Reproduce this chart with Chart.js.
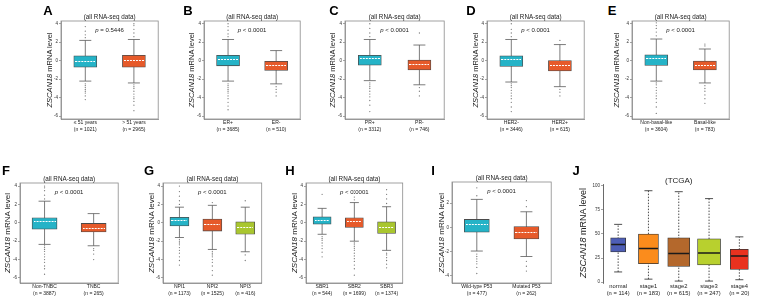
<!DOCTYPE html>
<html><head><meta charset="utf-8">
<script src="https://cdn.jsdelivr.net/npm/chart.js@4/dist/chart.umd.min.js"></script>
<style>
html,body{margin:0;padding:0;background:#fff;}
#root{position:relative;width:767px;height:297px;overflow:hidden;font-family:Arial,"Liberation Sans",sans-serif;background:#fff;}
.cv{position:absolute;}
.lt{position:absolute;font-weight:bold;font-size:13px;line-height:1;transform:translate(-50%,-50%);color:#000;}
.yl{position:absolute;white-space:nowrap;line-height:1;transform:translate(-50%,-50%) rotate(-90deg);color:#222;}
</style></head><body><div id="root"></div>
<script>
// ---------------- DATA ----------------
const ticksRNA = [-6,-4,-2,0,2,4];
const ticksI = [-4,-2,0,2];
const ticksJ = [0,25,50,75,100];

const catsA = ['≤ 51 years','> 51 years'], nA = ['(n = 1021)','(n = 2965)'];
const loA=[-2.2,-2.4], q1A=[-0.7,-0.7], medA=[-0.05,0.0], q3A=[0.54,0.6], hiA=[2.2,2.3];
const outA=[[2.5,2.8,3.2,3.7,-2.5,-2.7,-2.9,-3.1,-3.3,-3.5,-3.8,-4.2],[2.6,3.0,3.4,3.8,4.0,-2.6,-2.8,-3.0,-3.3,-3.6,-3.9,-4.1,-4.4,-4.8,-5.4]];

const catsB = ['ER+','ER-'], nB = ['(n = 3685)','(n = 510)'];
const loB=[-2.2,-2.5], q1B=[-0.55,-1.05], medB=[0.18,-0.55], q3B=[0.6,-0.07], hiB=[2.3,1.1];
const outB=[[2.6,2.9,3.3,3.7,4.0,-2.5,-2.7,-2.9,-3.1,-3.3,-3.5,-3.8,-4.1,-4.5,-4.9,-5.3],[-2.8,-3.1,-3.4,-3.8]];

const catsC = ['PR+','PR-'], nC = ['(n = 3312)','(n = 746)'];
const loC=[-2.15,-2.6], q1C=[-0.47,-1.0], medC=[0.2,-0.4], q3C=[0.58,0.07], hiC=[2.3,1.7];
const outC=[[2.6,3.0,3.5,4.0,-2.4,-2.6,-2.8,-3.0,-3.3,-3.6,-3.9,-4.3,-4.8,-5.5],[3.0,-2.9,-3.3,-3.8]];

const catsD = ['HER2-','HER2+'], nD = ['(n = 3446)','(n = 615)'];
const loD=[-2.3,-2.8], q1D=[-0.62,-1.1], medD=[0.1,-0.55], q3D=[0.54,0.03], hiD=[2.3,1.75];
const outD=[[2.6,3.0,3.4,4.0,-2.5,-2.7,-2.9,-3.2,-3.5,-3.8,-4.1,-4.5,-5.0,-5.5],[2.2,-3.1,-3.4,-3.8]];

const catsE = ['Non-basal-like','Basal-like'], nE = ['(n = 3604)','(n = 783)'];
const loE=[-2.2,-2.4], q1E=[-0.5,-1.0], medE=[0.22,-0.5], q3E=[0.65,0.0], hiE=[2.35,1.27];
const outE=[[2.7,3.1,3.5,3.8,4.1,-2.4,-2.6,-2.9,-3.2,-3.5,-3.8,-4.1,-4.5,-5.0,-5.7],[1.6,1.8,-2.7,-3.0,-3.3,-3.7,-4.1,-4.6]];

const catsF = ['Non-TNBC','TNBC'], nF = ['(n = 3887)','(n = 265)'];
const loF=[-2.35,-2.5], q1F=[-0.7,-1.0], medF=[0.1,-0.6], q3F=[0.55,-0.07], hiF=[2.35,1.0];
const outF=[[2.6,3.0,3.5,3.8,4.0,-2.5,-2.7,-2.9,-3.1,-3.4,-3.7,-4.0,-4.3,-4.7,-5.0,-5.6],[-2.8,-3.0,-3.4,-4.0]];

const catsG = ['NPI1','NPI2','NPI3'], nG = ['(n = 1173)','(n = 1525)','(n = 416)'];
const loG=[-1.6,-2.9,-3.15], q1G=[-0.35,-0.9,-1.25], medG=[0.2,-0.15,-0.5], q3G=[0.6,0.4,0.1], hiG=[1.7,1.9,1.7];
const outG=[[2.0,2.4,2.9,3.4,4.0,-1.8,-2.0,-2.2,-2.4,-2.7,-3.0,-3.3,-3.7,-4.1,-4.6],[2.2,-3.1,-3.3,-3.5,-3.7,-4.0,-4.3,-4.7,-5.2,-5.7],[2.4,-3.5,-4.1]];

const catsH = ['SBR1','SBR2','SBR3'], nH = ['(n = 544)','(n = 1699)','(n = 1374)'];
const loH=[-1.25,-2.0,-3.0], q1H=[-0.15,-0.5,-1.15], medH=[0.3,0.15,-0.5], q3H=[0.65,0.55,0.1], hiH=[1.57,2.2,1.75];
const outH=[[3.1,-1.5,-1.7,-1.9,-2.2,-2.5,-2.8,-3.2,-3.7],[2.5,2.8,3.2,3.5,-2.2,-2.4,-2.6,-2.8,-3.0,-3.3,-3.6,-3.9,-4.2,-4.6,-5.0,-5.7],[2.1,2.6,3.1,3.6,-3.3,-3.5,-3.8,-4.1,-4.5,-4.9]];

const catsI = ['Wild-type P53','Mutated P53'], nI = ['(n = 477)','(n = 262)'];
const loI=[-1.95,-2.4], q1I=[-0.4,-0.95], medI=[0.25,-0.43], q3I=[0.65,0.06], hiI=[2.3,1.28];
const outI=[[2.6,3.25,-2.2,-2.4,-2.6,-2.8,-3.0,-3.3,-3.8],[1.7,2.2,-2.8,-3.2,-3.6]];

const catsJ = ['normal','stage1','stage2','stage3','stage4'], nJ = ['(n = 114)','(n = 183)','(n = 615)','(n = 247)','(n = 20)'];
const loJ=[10.5,3,1,1,2.4], q1J=[31.4,19,16.3,17.8,13.2], medJ=[39,35,29.6,30.3,27.2], q3J=[46,50,46,45,34], hiJ=[60,95,94,86.8,47];
const outJ=[[],[],[],[],[]];

// ---------------- STYLE / LAYOUT ----------------
const FONT='Arial, "Liberation Sans", Helvetica, sans-serif';
Chart.defaults.font.family=FONT;
const CY='#25b3c7', OR='#e65a2a', GR='#a9c62f';
const JCOL=['#4e5eb6','#fb8c1c','#b4682c','#b8d02e','#e9321f'];
const RNA='(all RNA-seq data)';
const root=document.getElementById('root');

const rnaStyle={rna:true,wCol:'#5a5a5a',wW:0.8,cCol:'#5a5a5a',bCol:'#4a4a4a',bW:0.8,oCol:'#7a7a7a',frame:true,tSize:6.3,pSize:6,lSize:5,lLH:1.3,lPad:0.5};
const panels=[
 Object.assign({letter:'A',lpos:[48,10],ylab:[50,70,7.5],cats:catsA,n:nA,lo:loA,q1:q1A,med:medA,q3:q3A,hi:hiA,out:outA,colors:[CY,OR],p:'= 0.5446',title:RNA,plot:[61,21,163,119],yr:[-6.3,4.3],ticks:ticksRNA,boxW:[23,23],capW:12},rnaStyle),
 Object.assign({letter:'B',lpos:[188,10],ylab:[192,70,7.5],cats:catsB,n:nB,lo:loB,q1:q1B,med:medB,q3:q3B,hi:hiB,out:outB,colors:[CY,OR],p:'< 0.0001',title:RNA,plot:[204,21,305,119],yr:[-6.3,4.3],ticks:ticksRNA,boxW:[23,23],capW:12},rnaStyle),
 Object.assign({letter:'C',lpos:[334,10],ylab:[333,70,7.5],cats:catsC,n:nC,lo:loC,q1:q1C,med:medC,q3:q3C,hi:hiC,out:outC,colors:[CY,OR],p:'< 0.0001',title:RNA,plot:[345,21,449,119],yr:[-6.3,4.3],ticks:ticksRNA,boxW:[23,23],capW:12},rnaStyle),
 Object.assign({letter:'D',lpos:[471,10],ylab:[476,70,7.5],cats:catsD,n:nD,lo:loD,q1:q1D,med:medD,q3:q3D,hi:hiD,out:outD,colors:[CY,OR],p:'< 0.0001',title:RNA,plot:[487,21,589,119],yr:[-6.3,4.3],ticks:ticksRNA,boxW:[23,23],capW:12},rnaStyle),
 Object.assign({letter:'E',lpos:[612,10],ylab:[617,70,7.5],cats:catsE,n:nE,lo:loE,q1:q1E,med:medE,q3:q3E,hi:hiE,out:outE,colors:[CY,OR],p:'< 0.0001',title:RNA,plot:[632,21,734,119],yr:[-6.3,4.3],ticks:ticksRNA,boxW:[23,23],capW:12},rnaStyle),
 Object.assign({letter:'F',lpos:[6,170],ylab:[8,233,8],cats:catsF,n:nF,lo:loF,q1:q1F,med:medF,q3:q3F,hi:hiF,out:outF,colors:[CY,OR],p:'< 0.0001',title:RNA,plot:[20,183,123,283],yr:[-6.55,4.33],ticks:ticksRNA,boxW:[25,25],capW:12},rnaStyle),
 Object.assign({letter:'G',lpos:[149,170],ylab:[152,233,8],cats:catsG,n:nG,lo:loG,q1:q1G,med:medG,q3:q3G,hi:hiG,out:outG,colors:[CY,OR,GR],p:'< 0.0001',title:RNA,plot:[163,183,265,283],yr:[-6.55,4.33],ticks:ticksRNA,boxW:[19,19,19],capW:9},rnaStyle),
 Object.assign({letter:'H',lpos:[290,170],ylab:[295,233,8],cats:catsH,n:nH,lo:loH,q1:q1H,med:medH,q3:q3H,hi:hiH,out:outH,colors:[CY,OR,GR],p:'< 0.0001',title:RNA,plot:[306,183,406,283],yr:[-6.55,4.33],ticks:ticksRNA,boxW:[18,18,18],capW:9},rnaStyle),
 Object.assign({letter:'I',lpos:[433,170],ylab:[442,233,8],cats:catsI,n:nI,lo:loI,q1:q1I,med:medI,q3:q3I,hi:hiI,out:outI,colors:[CY,OR],p:'< 0.0001',title:RNA,plot:[452,182,556,283],yr:[-4.58,3.73],ticks:ticksI,boxW:[25,25],capW:12},rnaStyle),
 {letter:'J',lpos:[576,170],ylab:[583,233,9],cats:catsJ,n:nJ,lo:loJ,q1:q1J,med:medJ,q3:q3J,hi:hiJ,out:outJ,colors:JCOL,p:null,title:'(TCGA)',plot:[603,183.8,767,282.3],yr:[-1,102],ticks:ticksJ,boxW:[15,20,22,23,18],capW:8,
  rna:false,wCol:'#222',wW:0.8,wDash:[1.5,1.5],cCol:'#222',bCol:'#333',bW:0.8,oCol:'#555',frame:false,tSize:8,tOff:3,lSize:5.8,lLH:1.18,lPad:0,padR:0,xBorder:false}
];

function dashImg(w){
  const c=document.createElement('canvas'); c.width=w; c.height=1;
  const x=c.getContext('2d'); x.fillStyle='#ffffff';
  for(let i=0;i<w;i+=3){x.fillRect(i,0,2,1);}
  return c;
}

function build(P){
  const [L,T,R,B]=P.plot;
  const padL=14, padT=14, padR=(P.padR!==undefined?P.padR:2), padB=16;
  const W=Math.round((R-L)+padL+padR), H=Math.round((B-T)+padT+padB);
  const cv=document.createElement('canvas');
  cv.className='cv';
  cv.style.left=(L-padL)+'px'; cv.style.top=(T-padT)+'px';
  cv.style.width=W+'px'; cv.style.height=H+'px';
  cv.width=W; cv.height=H;
  root.appendChild(cv);

  const cats=P.cats, k=cats.length, ds=[];
  // whiskers
  const wd=[];
  for(let i=0;i<k;i++){wd.push({x:cats[i],y:P.lo[i]},{x:cats[i],y:P.hi[i]},{x:cats[i],y:null});}
  ds.push({type:'scatter',data:wd,showLine:true,spanGaps:false,borderColor:P.wCol,borderWidth:P.wW,borderDash:P.wDash||[],pointRadius:0,order:10});
  // boxes
  for(let i=0;i<k;i++){
    ds.push({type:'bar',data:cats.map((c,j)=>j===i?[P.q1[i],P.q3[i]]:null),backgroundColor:P.colors[i],borderColor:P.bCol,borderWidth:P.bW,borderSkipped:false,barThickness:P.boxW[i],grouped:false,order:8});
  }
  // caps
  const cd=[];
  for(let i=0;i<k;i++){cd.push({x:cats[i],y:P.lo[i]},{x:cats[i],y:P.hi[i]});}
  ds.push({type:'scatter',data:cd,pointStyle:'line',pointRadius:P.capW/2,pointBorderColor:P.cCol,pointBorderWidth:P.wW,order:6});
  // medians
  const md=cats.map((c,i)=>({x:c,y:P.med[i]}));
  if(P.rna){
    ds.push({type:'scatter',data:md,pointStyle:P.boxW.map(w=>dashImg(w-3)),pointRadius:1,order:4});
  } else {
    ds.push({type:'scatter',data:md,pointStyle:'line',pointRadius:P.boxW.map(w=>w/2-0.5),pointBorderColor:'#1a1a1a',pointBorderWidth:1.5,order:4});
  }
  // outliers
  const od=[];
  for(let i=0;i<k;i++){P.out[i].forEach(v=>od.push({x:cats[i],y:v}));}
  ds.push({type:'scatter',data:od,pointStyle:'circle',pointRadius:0.65,pointBackgroundColor:P.oCol,pointBorderWidth:0,order:5});

  const deco={id:'deco',
    beforeDatasetsDraw(ch){
      if(!P.frame) return;
      const a=ch.chartArea, c=ch.ctx;
      c.save(); c.strokeStyle='#8a8a8a'; c.lineWidth=0.8;
      c.strokeRect(a.left,a.top,a.right-a.left,a.bottom-a.top); c.restore();
    },
    afterDraw(ch){
      const a=ch.chartArea, c=ch.ctx, cx=(a.left+a.right)/2;
      c.save(); c.fillStyle='#222'; c.textBaseline='middle'; c.textAlign='center';
      c.font=P.tSize+'px '+FONT;
      c.fillText(P.title,cx,a.top-(P.tOff||4));
      if(P.p){
        c.textAlign='left';
        c.font='italic '+P.pSize+'px '+FONT; const w1=c.measureText('p ').width;
        c.font=P.pSize+'px '+FONT; const w2=c.measureText(P.p).width;
        const x0=cx-(w1+w2)/2, y0=a.top+9.5;
        c.font='italic '+P.pSize+'px '+FONT; c.fillText('p ',x0,y0);
        c.font=P.pSize+'px '+FONT; c.fillText(P.p,x0+w1,y0);
      }
      c.restore();
    }};

  new Chart(cv,{
    type:'bar',
    data:{labels:cats,datasets:ds},
    plugins:[deco],
    options:{
      responsive:false,animation:false,devicePixelRatio:1,
      layout:{padding:{top:padT,right:padR,left:0,bottom:0}},
      plugins:{legend:{display:false},tooltip:{enabled:false},title:{display:false}},
      scales:{
        x:{type:'category',offset:true,
           grid:{display:false,drawTicks:false},
           border:{display:P.xBorder!==false,color:'#8a8a8a',width:0.8},
           ticks:{autoSkip:false,maxRotation:0,minRotation:0,padding:P.lPad,color:'#222',
                  font:{size:P.lSize,lineHeight:P.lLH},
                  callback:(v,i)=>[cats[i],P.n[i]]},
           afterFit:s=>{s.height=padB;}},
        y:{type:'linear',min:P.yr[0],max:P.yr[1],
           afterBuildTicks:s=>{s.ticks=P.ticks.map(v=>({value:v}));},
           grid:{display:true,drawOnChartArea:false,drawTicks:true,tickLength:2,color:'#666',lineWidth:0.6},
           border:{display:true,color:P.frame?'#8a8a8a':'#444',width:0.8},
           ticks:{padding:1,color:'#333',font:{size:4.5}},
           afterFit:s=>{s.width=padL;}}
      }
    }
  });

  const lt=document.createElement('div'); lt.className='lt';
  lt.style.left=P.lpos[0]+'px'; lt.style.top=P.lpos[1]+'px'; lt.textContent=P.letter;
  root.appendChild(lt);
  const yl=document.createElement('div'); yl.className='yl';
  yl.style.left=P.ylab[0]+'px'; yl.style.top=P.ylab[1]+'px'; yl.style.fontSize=P.ylab[2]+'px';
  yl.innerHTML='<i>ZSCAN18</i> mRNA level';
  root.appendChild(yl);
}
panels.forEach(build);
</script></body></html>
